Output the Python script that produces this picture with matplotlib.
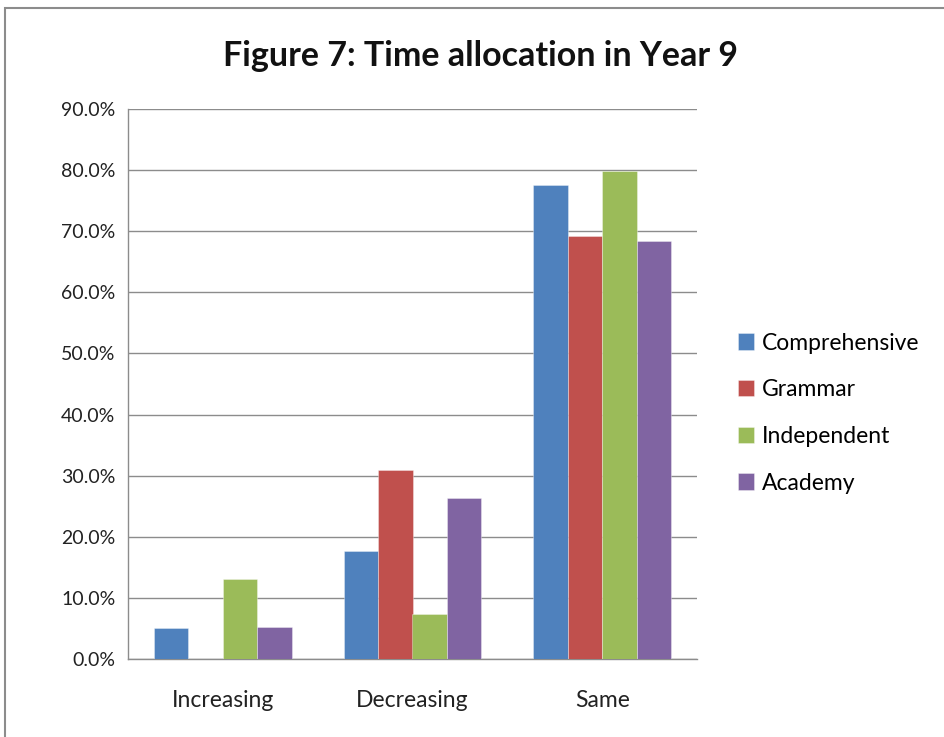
import matplotlib
matplotlib.use("Agg")
import matplotlib.pyplot as plt
import numpy as np
from matplotlib.patches import Rectangle

categories = ["Increasing", "Decreasing", "Same"]
series_names = ["Comprehensive", "Grammar", "Independent", "Academy"]
comprehensive = [5.1, 17.7, 77.5]
grammar = [0.0, 30.9, 69.2]
independent = [13.1, 7.4, 79.9]
academy = [5.3, 26.3, 68.4]
colors = ["#4F81BD", "#C0504D", "#9BBB59", "#8064A2"]
yticks = [0, 10, 20, 30, 40, 50, 60, 70, 80, 90]
ytick_labels = ["0.0%", "10.0%", "20.0%", "30.0%", "40.0%", "50.0%", "60.0%", "70.0%", "80.0%", "90.0%"]

plt.rcParams['font.family'] = ['Lato', 'DejaVu Sans']

fig = plt.figure(figsize=(9.45, 7.37), dpi=100)
ax = fig.add_axes([128/945, 1-659/737, (697-128)/945, (659-109)/737])

data = [comprehensive, grammar, independent, academy]
x = np.arange(len(categories))
bw = 1/5.5
for i, (vals, c, name) in enumerate(zip(data, colors, series_names)):
    ax.bar(x + (i - 1.5) * bw, vals, width=bw, color=c, label=name,
           edgecolor=(1, 1, 1, 0.4), linewidth=0.6, zorder=3)

ax.set_xlim(-0.5, 2.5)
ax.set_ylim(0, 90)
ax.set_yticks(yticks)
ax.set_yticklabels(ytick_labels, fontsize=14, color="#222222")
ax.set_xticks(x)
ax.set_xticklabels(categories, fontsize=16.5, color="#222222")
ax.tick_params(axis='both', length=0)
ax.tick_params(axis='y', pad=9)
ax.tick_params(axis='x', pad=22)
ax.grid(axis='y', color='#8c8c8c', linewidth=1.0, zorder=0)
for s in ['top', 'right']:
    ax.spines[s].set_visible(False)
for s in ['left', 'bottom']:
    ax.spines[s].set_color('#8c8c8c')
    ax.spines[s].set_linewidth(1.0)

fig.text(481/945, 1-56/737, "Figure 7: Time allocation in Year 9", ha='center', va='center',
         fontsize=24.5, fontweight='bold', color='#111111')

leg = fig.legend(loc='center left', bbox_to_anchor=(717/945, 1-413/737), frameon=False,
                 fontsize=16.5, handlelength=0.7, handleheight=0.7, handletextpad=0.35,
                 labelspacing=1.12)

fig.patches.append(Rectangle((5/945, -0.1), 1.2, 1 - 8/737 + 0.1, transform=fig.transFigure,
                             fill=False, edgecolor='#8c8c8c', linewidth=1.5))

fig.savefig("out.png", dpi=100)
